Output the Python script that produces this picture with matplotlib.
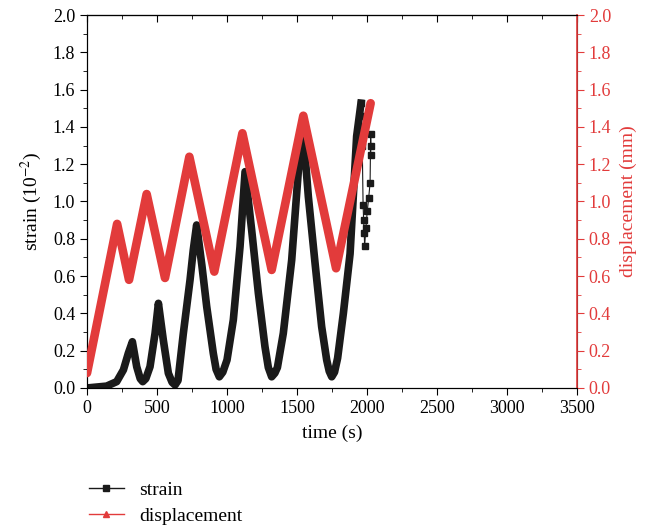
import matplotlib
matplotlib.use("Agg")
import matplotlib.pyplot as plt
from matplotlib.lines import Line2D
from matplotlib.ticker import MultipleLocator, FormatStrFormatter

# strain (10^-2)
strain_t = [0, 140, 212, 260, 295, 324, 355, 380, 398, 420, 450, 486, 510, 545,
            581, 608, 629, 650, 664, 688, 736, 759, 783, 820, 855, 902, 922, 945,
            970, 1000, 1045, 1093, 1129, 1176, 1224, 1271, 1295, 1319, 1342, 1360,
            1402, 1462, 1510, 1545, 1581, 1629, 1676, 1712, 1730, 1748, 1768, 1790,
            1831, 1879, 1926, 1957,
            1960, 1963, 1966, 1972, 1976, 1980, 1983, 1992, 2002, 2012, 2022,
            2026, 2028, 2026]
strain_v = [0.0, 0.01, 0.034, 0.097, 0.186, 0.248, 0.114, 0.05, 0.034, 0.05,
            0.114, 0.293, 0.454, 0.257, 0.079, 0.03, 0.016, 0.04, 0.134, 0.293,
            0.58, 0.74, 0.874, 0.66, 0.436, 0.186, 0.1, 0.06, 0.085, 0.15, 0.365,
            0.758, 1.16, 0.847, 0.508, 0.222, 0.11, 0.06, 0.08, 0.11, 0.293,
            0.686, 1.169, 1.366, 1.026, 0.668, 0.329, 0.15, 0.09, 0.06, 0.085,
            0.16, 0.40, 0.72, 1.35, 1.527,
            1.46, 1.38, 1.30, 0.98, 0.90, 0.83, 0.76, 0.86, 0.95, 1.02, 1.10,
            1.36, 1.30, 1.25]
n_main = 56  # points up to the last peak

# displacement (mm)
disp_t = [0, 215, 300, 426, 557, 731, 909, 1110, 1319, 1545, 1779, 2026]
disp_v = [0.08, 0.88, 0.58, 1.04, 0.59, 1.24, 0.624, 1.366, 0.633, 1.46, 0.642, 1.527]

RED = '#e23b3b'
BLACK = '#1a1a1a'

plt.rcParams['font.family'] = ['Liberation Serif', 'DejaVu Serif']
plt.rcParams['mathtext.fontset'] = 'stix'

fig = plt.figure(figsize=(6.46, 5.27), dpi=100)
ax = fig.add_axes([0.1347, 0.2638, 0.7585, 0.7077])
ax2 = ax.twinx()

ax.plot(strain_t[:n_main], strain_v[:n_main], color=BLACK, lw=5.5,
        solid_joinstyle='round', zorder=2)
ax.plot(strain_t[n_main - 1:], strain_v[n_main - 1:], color=BLACK, lw=0.8,
        marker='s', ms=4.5, zorder=2)
ax2.plot(disp_t, disp_v, color=RED, lw=6.2, solid_joinstyle='round',
         solid_capstyle='round', zorder=3)

ax.set_xlim(0, 3500)
ax.set_ylim(0, 2.0)
ax2.set_ylim(0, 2.0)
ax.xaxis.set_major_locator(MultipleLocator(500))
ax.xaxis.set_minor_locator(MultipleLocator(250))
for a in (ax, ax2):
    a.yaxis.set_major_locator(MultipleLocator(0.2))
    a.yaxis.set_minor_locator(MultipleLocator(0.1))
    a.yaxis.set_major_formatter(FormatStrFormatter('%.1f'))

ax.tick_params(axis='x', which='major', direction='out', length=5, labelsize=13)
ax.tick_params(axis='x', which='minor', direction='out', length=3)
ax.tick_params(axis='y', which='major', direction='out', length=5, labelsize=13)
ax.tick_params(axis='y', which='minor', direction='out', length=3)
ax2.tick_params(axis='y', which='major', direction='out', length=5, labelsize=13,
                colors=RED)
ax2.tick_params(axis='y', which='minor', direction='out', length=3, colors=RED)
ax2.spines['right'].set_color(RED)
ax2.spines['right'].set_linewidth(1.2)

# top ticks point inward, no labels
top = ax.secondary_xaxis('top')
top.xaxis.set_major_locator(MultipleLocator(500))
top.xaxis.set_minor_locator(MultipleLocator(250))
top.tick_params(axis='x', which='major', direction='in', length=5, labeltop=False)
top.tick_params(axis='x', which='minor', direction='in', length=3)

ax.set_xlabel('time (s)', fontsize=14, labelpad=6)
ax.set_ylabel('strain (10$^{-2}$)', fontsize=14, labelpad=6)
ax2.set_ylabel('displacement (mm)', fontsize=14, color=RED, labelpad=6)

handles = [Line2D([], [], color=BLACK, lw=1, marker='s', ms=4),
           Line2D([], [], color=RED, lw=1, marker='^', ms=4)]
fig.legend(handles, ['strain', 'displacement'], loc='upper left',
           bbox_to_anchor=(0.11, 0.12), frameon=False, fontsize=14,
           handlelength=1.8, numpoints=1, labelspacing=0.45)

fig.savefig('out.png', dpi=100)
